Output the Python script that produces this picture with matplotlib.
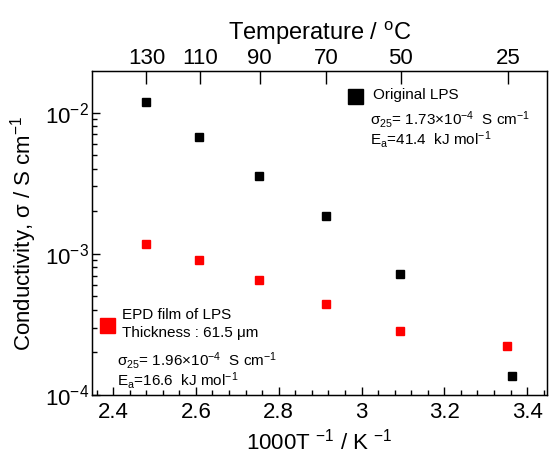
import matplotlib
matplotlib.use('Agg')
import matplotlib.pyplot as plt
import numpy as np
from matplotlib.ticker import MultipleLocator, LogLocator, NullFormatter

plt.rcParams['font.family'] = ['Liberation Sans', 'DejaVu Sans']
plt.rcParams['mathtext.fontset'] = 'custom'
plt.rcParams['mathtext.rm'] = 'Liberation Sans'
plt.rcParams['mathtext.it'] = 'Liberation Sans:italic'
plt.rcParams['mathtext.bf'] = 'Liberation Sans:bold'

# measurement temperatures (deg C) -> 1000/T
temp_c = [130, 110, 90, 70, 50, 25]
inv_t = [2.479, 2.608, 2.753, 2.913, 3.093, 3.363]
inv_t_epd = [2.479, 2.608, 2.753, 2.913, 3.093, 3.351]

sigma_original = [1.19e-2, 6.76e-3, 3.57e-3, 1.84e-3, 7.23e-4, 1.37e-4]
sigma_epd = [1.18e-3, 8.97e-4, 6.52e-4, 4.41e-4, 2.86e-4, 2.23e-4]

top_ticks_c = [130, 110, 90, 70, 50, 25]

W, H = 550, 453
fig = plt.figure(figsize=(W / 100, H / 100), dpi=100)
ax = fig.add_axes([92 / W, 1 - 395 / H, (547 - 92) / W, (395 - 70.7) / H])

ax.plot(inv_t, sigma_original, 's', color='black', ms=5.8, mec='black')
ax.plot(inv_t_epd, sigma_epd, 's', color='#ff0000', ms=5.8, mec='#ff0000')

ax.set_yscale('log')
ax.set_xlim(2.349, 3.448)
ax.set_ylim(1e-4, 0.0198)

ax.xaxis.set_minor_locator(MultipleLocator(0.04))
ax.set_xticks([2.4, 2.6, 2.8, 3.0, 3.2, 3.4])
ax.set_xticklabels(['2.4', '2.6', '2.8', '3', '3.2', '3.4'])
ax.yaxis.set_major_locator(LogLocator(base=10, numticks=10))
ax.yaxis.set_minor_locator(LogLocator(base=10, subs=np.arange(2, 10), numticks=10))
ax.yaxis.set_minor_formatter(NullFormatter())

ax.tick_params(axis='x', which='major', direction='in', length=6, width=1,
               labelsize=16, pad=5, top=False)
ax.tick_params(axis='x', which='minor', direction='in', length=3.5, width=1, top=False)
ax.tick_params(axis='y', which='major', direction='in', length=6, width=1,
               labelsize=16, pad=2, right=False)
ax.tick_params(axis='y', which='minor', direction='in', length=3.5, width=1, right=False)
for s in ax.spines.values():
    s.set_linewidth(1)

ax.set_xlabel('1000T $^{-1}$ / K $^{-1}$', fontsize=16, labelpad=4)
ax.set_ylabel('Conductivity, σ / S cm$^{-1}$', fontsize=16, labelpad=4)

# top temperature axis
top = ax.twiny()
top.set_xlim(ax.get_xlim())
top.set_xticks([1000 / (t + 273.15) for t in top_ticks_c])
top.set_xticklabels([str(t) for t in top_ticks_c])
top.tick_params(axis='x', direction='in', length=9.5, width=1, labelsize=16, pad=1)
top.set_xlabel('Temperature / $^{\\mathrm{o}}$C', fontsize=17, labelpad=6)

# annotations
def px(x, y):
    return x / W, 1 - y / H

fs = 11
ax.plot(*px(355, 96), 's', color='black', ms=10.8, transform=fig.transFigure, clip_on=False)
fig.text(*px(373, 95), 'Original LPS', fontsize=fs, va='center')
fig.text(*px(370, 119), 'σ$_{25}$= 1.73$\\times$10$^{-4}$  S cm$^{-1}$', fontsize=fs, va='center')
fig.text(*px(370, 139), 'E$_{\\mathrm{a}}$=41.4  kJ mol$^{-1}$', fontsize=fs, va='center')

ax.plot(*px(106.5, 325), 's', color='#ff0000', ms=10.8, transform=fig.transFigure, clip_on=False)
fig.text(*px(122, 315), 'EPD film of LPS', fontsize=fs, va='center')
fig.text(*px(122, 333), 'Thickness : 61.5 μm', fontsize=fs, va='center')
fig.text(*px(117, 361), 'σ$_{25}$= 1.96$\\times$10$^{-4}$  S cm$^{-1}$', fontsize=fs, va='center')
fig.text(*px(117, 381), 'E$_{\\mathrm{a}}$=16.6  kJ mol$^{-1}$', fontsize=fs, va='center')

fig.savefig('out.png', dpi=100)
